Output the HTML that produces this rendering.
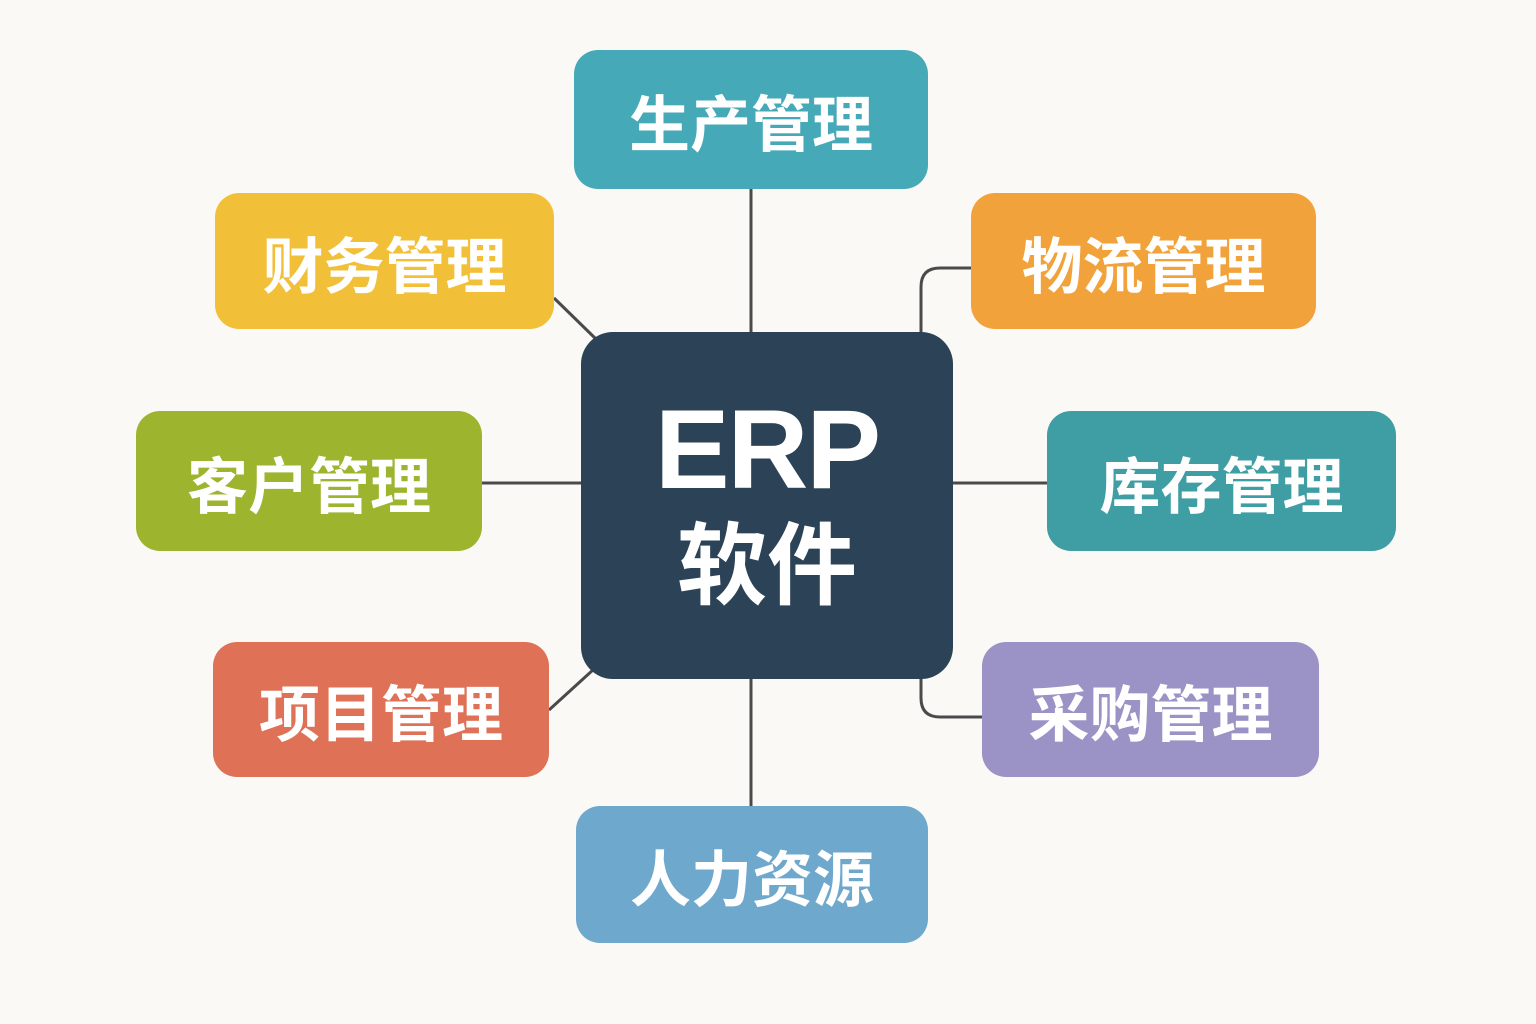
<!DOCTYPE html>
<html><head><meta charset="utf-8"><style>
html,body{margin:0;padding:0}
body{width:1536px;height:1024px;background:#FAF9F5;position:relative;overflow:hidden;font-family:"Liberation Sans","Noto Sans CJK SC",sans-serif}
.b{position:absolute;border-radius:24px;color:#fff;font-weight:700;font-size:61px;display:flex;align-items:center;justify-content:center;letter-spacing:0px;font-family:"Noto Sans CJK SC","WenQuanYi Zen Hei",sans-serif}
svg{position:absolute;left:0;top:0}
</style></head><body>
<svg width="1536" height="1024">
<g stroke="#4a4a4a" stroke-width="3" fill="none">
<line x1="751" y1="189" x2="751" y2="334"/>
<line x1="751" y1="677" x2="751" y2="806"/>
<line x1="554" y1="298" x2="598" y2="341"/>
<line x1="482" y1="483" x2="583" y2="483"/>
<line x1="951" y1="483" x2="1047" y2="483"/>
<line x1="549" y1="710" x2="594" y2="669"/>
<path d="M971 268 H940 Q921 268 921 287 V334"/>
<path d="M921 677 V698 Q921 717 940 717 H982"/>
</g>
</svg>
<div class="b" style="left:574px;top:50px;width:354px;height:139px;background:#45A9B8">生产管理</div>
<div class="b" style="left:215px;top:193px;width:339px;height:136px;background:#F2C038">财务管理</div>
<div class="b" style="left:971px;top:193px;width:345px;height:136px;background:#F2A23A">物流管理</div>
<div class="b" style="left:136px;top:411px;width:346px;height:140px;background:#9DB42E">客户管理</div>
<div class="b" style="left:1047px;top:411px;width:349px;height:140px;background:#3F9DA4">库存管理</div>
<div class="b" style="left:213px;top:642px;width:336px;height:135px;background:#DE7156">项目管理</div>
<div class="b" style="left:982px;top:642px;width:337px;height:135px;background:#9B92C6">采购管理</div>
<div class="b" style="left:576px;top:806px;width:352px;height:137px;background:#6EA8CD">人力资源</div>
<div style="position:absolute;left:581px;top:332px;width:372px;height:347px;background:#2B4257;border-radius:32px;color:#fff;text-align:center">
<div style="font-family:'Liberation Sans',sans-serif;font-weight:700;font-size:112px;line-height:112px;margin-top:62px;letter-spacing:-2px">ERP</div>
<div style="font-family:'Noto Sans CJK SC',sans-serif;font-weight:700;font-size:90px;line-height:100px;margin-top:2px">软件</div>
</div>
</body></html>
